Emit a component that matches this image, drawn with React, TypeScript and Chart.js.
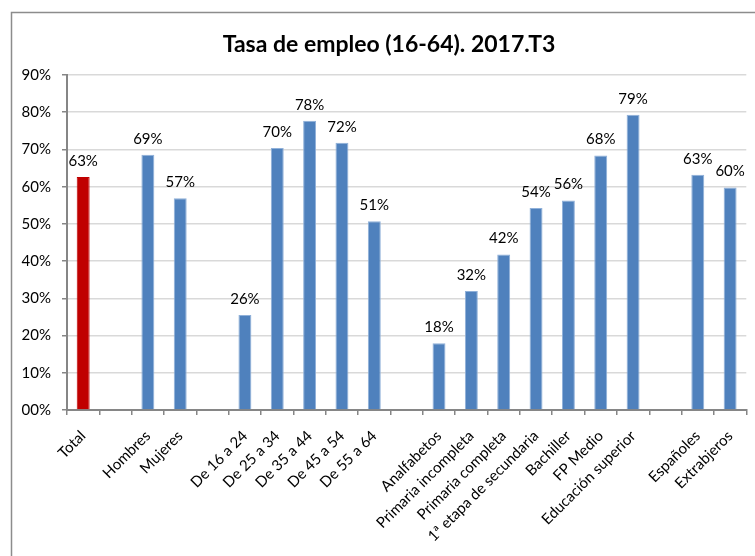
import React, { useEffect, useRef } from "react";
import { Chart, registerables } from "chart.js";

Chart.register(...registerables);

const TITLE = "Tasa de empleo (16-64). 2017.T3";
const categories: string[] = [
  "Total", "",
  "Hombres", "Mujeres", "",
  "De 16 a 24", "De 25 a 34", "De 35 a 44", "De 45 a 54", "De 55 a 64", "",
  "Analfabetos", "Primaria incompleta", "Primaria completa", "1ª etapa de secundaria", "Bachiller", "FP Medio", "Educación superior", "",
  "Españoles", "Extrabjeros",
];
const values: (number | null)[] = [
  62.6, null,
  68.6, 56.9, null,
  25.5, 70.4, 77.7, 71.8, 50.7, null,
  17.9, 32.0, 41.8, 54.3, 56.3, 68.4, 79.3, null,
  63.2, 59.8,
];
const yTicks: number[] = [0, 10, 20, 30, 40, 50, 60, 70, 80, 90];
const BLUE = "#4F81BD";
const RED = "#C00000";
const FONT = "Lato, 'Open Sans', sans-serif";

const framePlugin = {
  id: "frameTitle",
  beforeDraw(chart: any) {
    const ctx = chart.ctx;
    ctx.save();
    ctx.strokeStyle = "#8c8c8c";
    ctx.lineWidth = 1.5;
    ctx.beginPath();
    ctx.moveTo(11.5, 560);
    ctx.lineTo(11.5, 12.5);
    ctx.lineTo(760, 12.5);
    ctx.stroke();
    ctx.restore();
  },
  afterDraw(chart: any) {
    const ctx = chart.ctx;
    ctx.save();
    ctx.fillStyle = "#000";
    ctx.font = `bold 23px ${FONT}`;
    ctx.textAlign = "center";
    ctx.textBaseline = "middle";
    ctx.fillText(TITLE, 389, 45);
    ctx.restore();
  },
};

const labelPlugin = {
  id: "barLabels",
  afterDatasetsDraw(chart: any) {
    const ctx = chart.ctx;
    const meta = chart.getDatasetMeta(0);
    ctx.save();
    ctx.fillStyle = "#000";
    ctx.font = `15px ${FONT}`;
    ctx.textAlign = "center";
    ctx.textBaseline = "alphabetic";
    meta.data.forEach((el: any, i: number) => {
      const v = values[i];
      if (v === null || v === undefined) return;
      ctx.fillText(`${Math.round(v)}%`, el.x, el.y - 11);
    });
    ctx.restore();
  },
};

export default function App() {
  const ref = useRef<HTMLCanvasElement | null>(null);
  useEffect(() => {
    if (!ref.current) return;
    const chart = new Chart(ref.current, {
      type: "bar",
      data: {
        labels: categories,
        datasets: [
          {
            data: values,
            backgroundColor: categories.map((_, i) => (i === 0 ? RED : BLUE)),
            borderColor: categories.map((_, i) => (i === 0 ? RED : "#8fb0d9")),
            borderWidth: 1,
            categoryPercentage: 1,
            barPercentage: 0.4,
          },
        ],
      },
      options: {
        responsive: false,
        animation: false,
        devicePixelRatio: 1,
        layout: { padding: { left: 0, top: 75, right: 6, bottom: 0 } },
        plugins: {
          legend: { display: false },
          title: { display: false },
          tooltip: { enabled: false },
        },
        scales: {
          x: {
            afterFit: (s: any) => {
              s.height = 146;
            },
            grid: {
              offset: true,
              drawOnChartArea: false,
              drawTicks: true,
              tickLength: 5,
              tickColor: "#868686",
              lineWidth: 1.5,
            },
            border: { color: "#868686", width: 2 },
            ticks: {
              autoSkip: false,
              maxRotation: 45,
              minRotation: 45,
              color: "#000",
              font: { family: FONT, size: 15 },
              padding: 12,
            },
          },
          y: {
            min: 0,
            max: 90,
            afterFit: (s: any) => {
              s.width = 67;
            },
            afterBuildTicks: (s: any) => {
              s.ticks = yTicks.map((v) => ({ value: v }));
            },
            grid: {
              color: "#d9d9d9",
              lineWidth: 1.5,
              tickLength: 5,
              tickColor: "#868686",
            },
            border: { color: "#868686", width: 2 },
            ticks: {
              color: "#000",
              font: { family: FONT, size: 15 },
              padding: 11,
              callback: (v: any) => `${String(v).padStart(2, "0")}%`,
            },
          },
        },
      },
      plugins: [framePlugin, labelPlugin],
    });
    return () => chart.destroy();
  }, []);
  return (
    <div style={{ position: "fixed", left: 0, top: 0, width: 755, height: 556, background: "#fff" }}>
      <canvas ref={ref} width={755} height={556} style={{ width: 755, height: 556 }} />
    </div>
  );
}
